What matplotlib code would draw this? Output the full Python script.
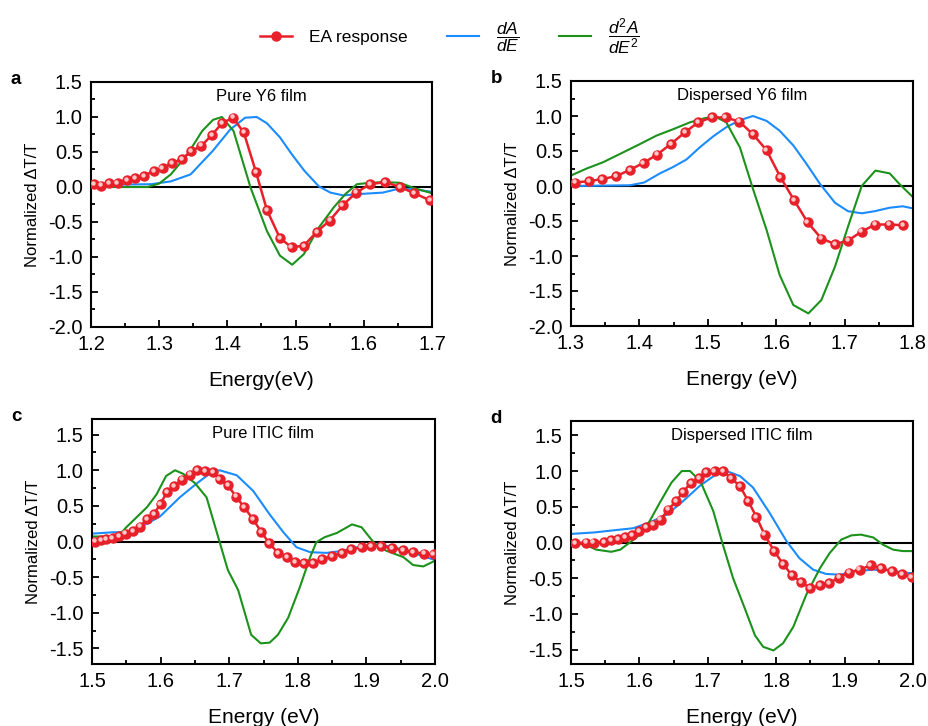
import matplotlib.pyplot as plt
from matplotlib.transforms import ScaledTranslation

plt.rcParams["font.family"] = ["Liberation Sans", "DejaVu Sans"]
plt.rcParams["mathtext.fontset"] = "custom"
plt.rcParams["mathtext.it"] = "Liberation Sans:italic"
plt.rcParams["mathtext.rm"] = "Liberation Sans"

RED = "#e8202a"
BLUE = "#1a8cff"
GREEN = "#1c921c"

# ---- panel a: Pure Y6 film ----
a_ea_x = [1.204, 1.215, 1.227, 1.239, 1.253, 1.265, 1.278, 1.292, 1.305, 1.319,
          1.333, 1.347, 1.362, 1.377, 1.392, 1.408, 1.424, 1.442, 1.458, 1.477,
          1.494, 1.512, 1.531, 1.550, 1.569, 1.589, 1.609, 1.631, 1.653, 1.674, 1.697]
a_ea_y = [0.04, 0.02, 0.05, 0.06, 0.10, 0.13, 0.16, 0.23, 0.27, 0.34,
          0.40, 0.51, 0.59, 0.74, 0.91, 0.99, 0.78, 0.21, -0.33, -0.73,
          -0.86, -0.84, -0.64, -0.48, -0.26, -0.08, 0.04, 0.07, 0.00, -0.09, -0.19]
a_d1_x = [1.200, 1.288, 1.317, 1.346, 1.378, 1.404, 1.426, 1.443, 1.458, 1.477,
          1.495, 1.513, 1.534, 1.551, 1.570, 1.594, 1.628, 1.653, 1.672, 1.700]
a_d1_y = [0.03, 0.04, 0.08, 0.18, 0.51, 0.82, 0.99, 1.00, 0.91, 0.71,
          0.46, 0.23, 0.01, -0.08, -0.12, -0.10, -0.08, -0.02, -0.03, -0.07]
a_d2_x = [1.200, 1.283, 1.300, 1.317, 1.341, 1.363, 1.379, 1.392, 1.409, 1.434,
          1.458, 1.477, 1.495, 1.512, 1.534, 1.556, 1.573, 1.590, 1.609, 1.629,
          1.653, 1.672, 1.700]
a_d2_y = [0.00, 0.00, 0.05, 0.18, 0.46, 0.80, 0.96, 1.00, 0.80, -0.01,
          -0.63, -0.98, -1.11, -0.96, -0.58, -0.29, -0.10, 0.04, 0.06, 0.07,
          0.06, -0.01, -0.09]

# ---- panel b: Dispersed Y6 film ----
b_ea_x = [1.306, 1.327, 1.346, 1.366, 1.386, 1.406, 1.426, 1.446, 1.467, 1.486,
          1.506, 1.526, 1.546, 1.566, 1.586, 1.606, 1.626, 1.646, 1.666, 1.686,
          1.705, 1.725, 1.745, 1.765, 1.785]
b_ea_y = [0.05, 0.07, 0.10, 0.14, 0.23, 0.33, 0.45, 0.60, 0.77, 0.91,
          0.98, 0.98, 0.92, 0.74, 0.51, 0.13, -0.20, -0.52, -0.75, -0.83,
          -0.78, -0.65, -0.55, -0.55, -0.56]
b_d1_x = [1.300, 1.386, 1.407, 1.430, 1.449, 1.469, 1.488, 1.508, 1.527, 1.547,
          1.566, 1.586, 1.605, 1.625, 1.644, 1.664, 1.686, 1.705, 1.725, 1.744,
          1.766, 1.785, 1.800]
b_d1_y = [0.00, 0.01, 0.05, 0.18, 0.27, 0.38, 0.55, 0.71, 0.84, 0.94,
          1.00, 0.93, 0.79, 0.58, 0.32, 0.03, -0.24, -0.36, -0.39, -0.36,
          -0.31, -0.29, -0.32]
b_d2_x = [1.300, 1.323, 1.347, 1.372, 1.401, 1.425, 1.449, 1.474, 1.496, 1.513,
          1.527, 1.547, 1.566, 1.586, 1.605, 1.625, 1.647, 1.666, 1.686, 1.705,
          1.725, 1.745, 1.766, 1.780, 1.800]
b_d2_y = [0.15, 0.25, 0.34, 0.46, 0.60, 0.72, 0.81, 0.91, 0.97, 0.98,
          0.91, 0.55, -0.04, -0.63, -1.27, -1.70, -1.82, -1.63, -1.15, -0.58,
          0.00, 0.22, 0.18, 0.03, -0.16]

# ---- panel c: Pure ITIC film ----
c_ea_x = [1.504, 1.513, 1.521, 1.530, 1.539, 1.549, 1.560, 1.570, 1.580, 1.590,
          1.600, 1.609, 1.620, 1.631, 1.643, 1.653, 1.665, 1.676, 1.686, 1.698,
          1.710, 1.722, 1.735, 1.747, 1.758, 1.771, 1.784, 1.796, 1.809, 1.822,
          1.836, 1.850, 1.864, 1.878, 1.893, 1.907, 1.922, 1.937, 1.953, 1.968,
          1.984, 1.998]
c_ea_y = [0.00, 0.02, 0.03, 0.05, 0.08, 0.11, 0.15, 0.21, 0.31, 0.38,
          0.53, 0.69, 0.78, 0.87, 0.94, 1.00, 0.99, 0.97, 0.88, 0.79,
          0.63, 0.48, 0.31, 0.13, -0.02, -0.16, -0.22, -0.29, -0.30, -0.30,
          -0.25, -0.20, -0.16, -0.11, -0.08, -0.06, -0.07, -0.09, -0.12, -0.15,
          -0.17, -0.18]
c_d1_x = [1.500, 1.531, 1.550, 1.570, 1.599, 1.628, 1.652, 1.674, 1.686, 1.711,
          1.735, 1.759, 1.779, 1.798, 1.818, 1.842, 1.866, 1.891, 1.915, 1.940,
          1.968, 2.000]
c_d1_y = [0.11, 0.13, 0.13, 0.20, 0.35, 0.62, 0.81, 0.97, 1.00, 0.93,
          0.71, 0.38, 0.13, -0.08, -0.15, -0.16, -0.13, -0.07, -0.04, -0.08,
          -0.16, -0.26]
c_d2_x = [1.500, 1.526, 1.538, 1.550, 1.565, 1.580, 1.594, 1.608, 1.621, 1.633,
          1.650, 1.667, 1.684, 1.698, 1.713, 1.732, 1.746, 1.759, 1.771, 1.786,
          1.803, 1.818, 1.827, 1.839, 1.857, 1.879, 1.893, 1.912, 1.929, 1.954,
          1.968, 1.983, 2.000]
c_d2_y = [0.07, 0.07, 0.07, 0.20, 0.34, 0.48, 0.66, 0.92, 1.00, 0.95,
          0.82, 0.62, 0.06, -0.40, -0.68, -1.31, -1.43, -1.42, -1.31, -1.07,
          -0.64, -0.22, -0.01, 0.06, 0.12, 0.24, 0.20, -0.03, -0.13, -0.22,
          -0.33, -0.35, -0.27]

# ---- panel d: Dispersed ITIC film ----
d_ea_x = [1.506, 1.522, 1.533, 1.548, 1.559, 1.569, 1.579, 1.589, 1.599, 1.610,
          1.620, 1.631, 1.642, 1.654, 1.664, 1.675, 1.687, 1.698, 1.710, 1.722,
          1.734, 1.747, 1.759, 1.771, 1.783, 1.797, 1.810, 1.823, 1.836, 1.850,
          1.864, 1.877, 1.892, 1.906, 1.922, 1.938, 1.953, 1.969, 1.984, 1.998]
d_ea_y = [-0.01, 0.00, 0.00, 0.01, 0.03, 0.05, 0.08, 0.10, 0.16, 0.21,
          0.25, 0.32, 0.46, 0.58, 0.71, 0.83, 0.90, 0.99, 1.00, 1.00,
          0.90, 0.79, 0.58, 0.36, 0.11, -0.12, -0.30, -0.46, -0.55, -0.64,
          -0.60, -0.57, -0.49, -0.42, -0.38, -0.32, -0.36, -0.40, -0.44, -0.48]
d_d1_x = [1.500, 1.533, 1.562, 1.591, 1.615, 1.640, 1.664, 1.688, 1.713, 1.727,
          1.747, 1.766, 1.790, 1.815, 1.834, 1.854, 1.873, 1.893, 1.917, 1.942,
          1.966, 1.985, 2.000]
d_d1_y = [0.12, 0.14, 0.17, 0.20, 0.28, 0.39, 0.58, 0.79, 0.96, 1.00,
          0.93, 0.77, 0.42, 0.02, -0.22, -0.38, -0.44, -0.45, -0.40, -0.38,
          -0.39, -0.42, -0.43]
d_d2_x = [1.500, 1.523, 1.537, 1.559, 1.572, 1.586, 1.601, 1.615, 1.630, 1.647,
          1.662, 1.674, 1.689, 1.708, 1.722, 1.737, 1.754, 1.769, 1.781, 1.796,
          1.810, 1.825, 1.844, 1.864, 1.878, 1.895, 1.910, 1.924, 1.942, 1.956,
          1.971, 1.985, 2.000]
d_d2_y = [0.01, -0.04, -0.10, -0.13, -0.10, 0.00, 0.11, 0.30, 0.56, 0.84,
          1.00, 1.00, 0.86, 0.44, -0.03, -0.50, -0.92, -1.30, -1.46, -1.51,
          -1.41, -1.18, -0.73, -0.36, -0.15, 0.04, 0.10, 0.11, 0.07, -0.03,
          -0.10, -0.12, -0.12]

W, H = 929, 726
fig = plt.figure(figsize=(W / 100, H / 100), dpi=100)


def box(left, top, right, bottom):
    return [left / W, 1 - bottom / H, (right - left) / W, (bottom - top) / H]


panels = [
    ("a", "Pure Y6 film", box(91, 82, 432, 327), (1.2, 1.7), (-2.0, 1.5),
     [1.2, 1.3, 1.4, 1.5, 1.6, 1.7], [-2.0, -1.5, -1.0, -0.5, 0.0, 0.5, 1.0, 1.5],
     "Energy(eV)", a_ea_x, a_ea_y, a_d1_x, a_d1_y, a_d2_x, a_d2_y),
    ("b", "Dispersed Y6 film", box(571, 81, 913, 326), (1.3, 1.8), (-2.0, 1.5),
     [1.3, 1.4, 1.5, 1.6, 1.7, 1.8], [-2.0, -1.5, -1.0, -0.5, 0.0, 0.5, 1.0, 1.5],
     "Energy (eV)", b_ea_x, b_ea_y, b_d1_x, b_d1_y, b_d2_x, b_d2_y),
    ("c", "Pure ITIC film", box(92, 419, 435, 664), (1.5, 2.0), (-1.72, 1.72),
     [1.5, 1.6, 1.7, 1.8, 1.9, 2.0], [-1.5, -1.0, -0.5, 0.0, 0.5, 1.0, 1.5],
     "Energy (eV)", c_ea_x, c_ea_y, c_d1_x, c_d1_y, c_d2_x, c_d2_y),
    ("d", "Dispersed ITIC film", box(571, 421, 913, 664), (1.5, 2.0), (-1.7, 1.7),
     [1.5, 1.6, 1.7, 1.8, 1.9, 2.0], [-1.5, -1.0, -0.5, 0.0, 0.5, 1.0, 1.5],
     "Energy (eV)", d_ea_x, d_ea_y, d_d1_x, d_d1_y, d_d2_x, d_d2_y),
]

handles = None
for (letter, title, rect, xlim, ylim, xticks, yticks, xlabel,
     ex, ey, d1x, d1y, d2x, d2y) in panels:
    ax = fig.add_axes(rect)
    ax.axhline(0, color="black", linewidth=1.5, zorder=1)
    h1, = ax.plot(d1x, d1y, color=BLUE, linewidth=1.5, zorder=2)
    h2, = ax.plot(d2x, d2y, color=GREEN, linewidth=1.5, zorder=2)
    h0, = ax.plot(ex, ey, color=RED, linewidth=1.8, marker="o", markersize=6.5,
                  markerfacecolor=RED, markeredgecolor=RED, zorder=3)
    # small highlight to give the markers a shaded look
    shift = ax.transData + ScaledTranslation(-1.2 / 100, 1.2 / 100, fig.dpi_scale_trans)
    ax.plot(ex, ey, linestyle="none", marker="o", markersize=2.2, color="#ffc8c8",
            transform=shift, zorder=4)
    if handles is None:
        handles = (h0, h1, h2)

    ax.set_xlim(*xlim)
    ax.set_ylim(*ylim)
    ax.set_xticks(xticks)
    ax.set_xticklabels([f"{t:.1f}" for t in xticks])
    ax.set_yticks(yticks)
    ax.set_yticklabels([f"{t:.1f}" for t in yticks])
    ax.set_xticks([t + 0.05 for t in xticks[:-1]], minor=True)
    ax.set_yticks([t + 0.25 for t in yticks[:-1]], minor=True)
    ax.tick_params(which="both", direction="in", top=False, right=False,
                   width=1.3, labelsize=14.5)
    ax.tick_params(which="major", length=5, pad=6)
    ax.tick_params(which="minor", length=3)
    for s in ax.spines.values():
        s.set_linewidth(1.5)

    ax.set_xlabel(xlabel, fontsize=15, labelpad=12)
    ax.set_ylabel("Normalized ΔT/T", fontsize=12, labelpad=6)
    ax.text(0.5, 0.97, title, transform=ax.transAxes, ha="center", va="top",
            fontsize=12)
    ax.text(-0.235, 1.01, letter, transform=ax.transAxes, ha="left", va="center",
            fontsize=13.5, fontweight="bold")

fig.legend(handles, ["EA response", r"$\dfrac{dA}{dE}$", r"$\dfrac{d^2A}{dE^2}$"],
           loc="center", bbox_to_anchor=(450 / W, 1 - 37 / H), ncol=3,
           frameon=False, fontsize=12.5, handlelength=1.8, columnspacing=2.3,
           handletextpad=1.0)

fig.savefig("out.png", dpi=100)
